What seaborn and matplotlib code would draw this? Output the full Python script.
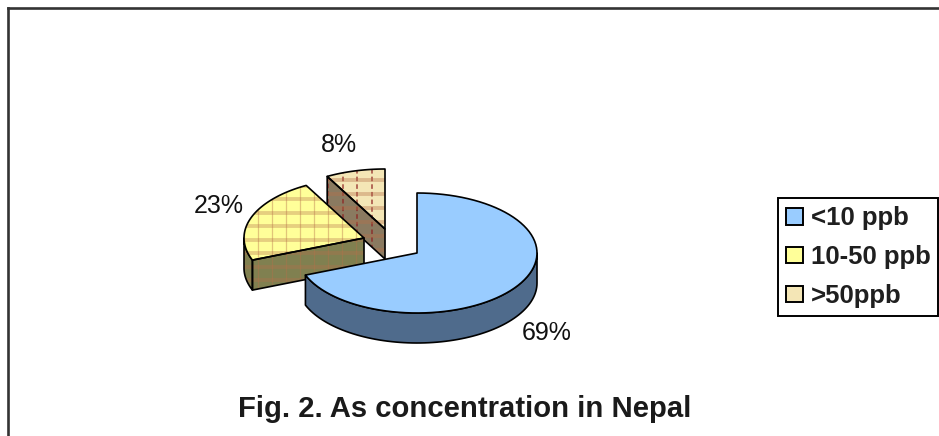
import numpy as np
import matplotlib
matplotlib.use("Agg")
import matplotlib.pyplot as plt
from matplotlib.patches import Patch, Polygon
import seaborn as sns

# Shares of tube wells per arsenic concentration class
categories = ["<10 ppb", "10-50 ppb", ">50ppb"]
shares = [69, 23, 8]
value_labels = ["69%", "23%", "8%"]
title = "Fig. 2. As concentration in Nepal"

sns.set_theme(style="ticks")
plt.rcParams["font.family"] = ["Liberation Sans", "DejaVu Sans"]

# Colours per slice: top face, side face
top_colors = sns.color_palette(["#99CCFF", "#FFFF99", "#F4E6B6"])
side_colors = sns.color_palette(["#4F6B8C", "#808050", "#8A7A60"])

# Canvas geometry of the tilted pie, in pixels
RX, RY, DEPTH = 120, 60, 30
apexes = [(417, 253), (364, 238), (385, 229)]
label_anchors = [(547, 333), (219, 206), (339, 145)]

fig = plt.figure(figsize=(9.39, 4.36), dpi=100)
ax = fig.add_axes([8 / 939, 0, 931 / 939, 428 / 436])
ax.set_xlim(8, 939)
ax.set_ylim(436, 8)
ax.set_xticks([])
ax.set_yticks([])
ax.set_facecolor("white")
sns.despine(ax=ax, top=False, right=True, bottom=True)
for side in ("top", "left"):
    ax.spines[side].set_linewidth(1.9)
    ax.spines[side].set_color("#333333")


def rim(apex, start, stop, drop=0.0, n=80):
    """Points along the elliptical rim; angles run clockwise from twelve o'clock."""
    t = np.radians(np.linspace(start, stop, n))
    return np.column_stack([apex[0] + RX * np.sin(t), apex[1] - RY * np.cos(t) + drop])


def pattern(patch, kind):
    """Excel-style plaid fill clipped to a polygon."""
    x0, y0 = patch.get_xy().min(axis=0)
    x1, y1 = patch.get_xy().max(axis=0)
    items = []
    if kind == "yellow":
        xs = np.arange(230, 380, 14)
        items += ax.plot(np.array([xs] * 2), [[y0] * len(xs), [y1] * len(xs)],
                         color="#B5704A", alpha=0.4, lw=0.9, zorder=patch.get_zorder())
        ys = np.arange(186, 300, 13.5)
        items += ax.plot([[x0] * len(ys), [x1] * len(ys)], np.array([ys] * 2),
                         color="#B5704A", alpha=0.33, lw=2.8, zorder=patch.get_zorder())
    else:
        xs = np.arange(328, 392, 14.5)
        items += ax.plot(np.array([xs] * 2), [[y0] * len(xs), [y1] * len(xs)],
                         color="#8E1F1F", alpha=0.8, lw=1.1, ls=(0, (3, 2)),
                         zorder=patch.get_zorder())
        ys = np.arange(180, 262, 14)
        items += ax.plot([[x0] * len(ys), [x1] * len(ys)], np.array([ys] * 2),
                         color="#B5704A", alpha=0.38, lw=2.8, zorder=patch.get_zorder())
    for line in items:
        line.set_clip_path(patch)


def face(points, color, z, kind=None):
    patch = Polygon(points, closed=True, facecolor=color, edgecolor="none", zorder=z)
    ax.add_patch(patch)
    if kind:
        pattern(patch, kind)
    ax.add_patch(Polygon(points, closed=True, fill=False, edgecolor="black",
                         lw=1.2, joinstyle="round", zorder=z + 0.5))


ends = np.cumsum(shares) / np.sum(shares) * 360
starts = np.r_[0, ends[:-1]]
kinds = [None, "yellow", "tan"]

# Back slices first, so the large slice overlaps the others
for i, z in ((2, 2), (1, 4), (0, 6)):
    apex = np.array(apexes[i], dtype=float)
    a0, a1 = starts[i], ends[i]
    below = apex + [0, DEPTH]

    if i == 0:
        # Outer wall of the large slice, right edge round to its far corner
        arc_top = rim(apex, 90, a1)
        arc_low = rim(apex, 90, a1, DEPTH)
        face(np.vstack([arc_top, arc_low[::-1]]), side_colors[i], z)
    elif i == 1:
        # Small piece of outer wall up to the left-most point, then the cut face
        arc_top = rim(apex, a0, 270)
        arc_low = rim(apex, a0, 270, DEPTH)
        face(np.vstack([arc_top, arc_low[::-1]]), side_colors[i], z, kinds[i])
        corner = rim(apex, a0, a0, n=1)[0]
        face([corner, apex, below, corner + [0, DEPTH]], side_colors[i], z + 0.2, kinds[i])
    else:
        # The cut face of the narrow slice looks towards the viewer
        corner = rim(apex, a0, a0, n=1)[0]
        face([corner, apex, below, corner + [0, DEPTH]], side_colors[i], z + 0.2, kinds[i])

    top = np.vstack([[apex], rim(apex, a0, a1)])
    face(top, top_colors[i], z + 0.6, kinds[i])

for text, (x, y) in zip(value_labels, label_anchors):
    ax.text(x, y, text, ha="center", va="center", fontsize=18, color="#111111", zorder=9)

ax.text(465, 409, title, ha="center", va="center", fontsize=21.1, fontweight="bold",
        color="#1a1a1a", zorder=9)

handles = [Patch(facecolor=c, edgecolor="black", lw=1.4, label=n)
           for c, n in zip(top_colors, categories)]
legend = ax.legend(handles=handles, loc="upper left", bbox_to_anchor=(778, 198.5),
                   bbox_transform=ax.transData, borderaxespad=0, fancybox=False,
                   framealpha=1, edgecolor="black", handlelength=0.66, handleheight=0.6,
                   handletextpad=0.3, labelspacing=0.58, borderpad=0.31,
                   prop={"size": 18.5, "weight": "bold"}, labelcolor="#1f1f1f")
legend.get_frame().set_linewidth(1.4)
legend.set_zorder(10)

fig.savefig("out.png", dpi=100, facecolor="white")
